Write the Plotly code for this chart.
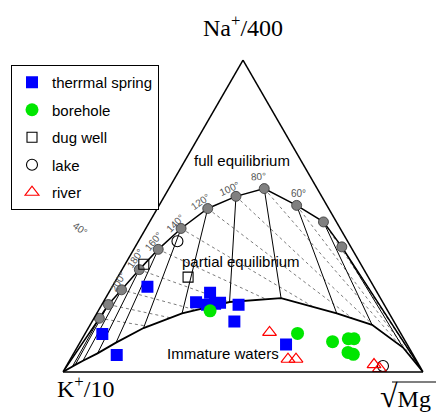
import plotly.graph_objects as go

# ---- Full-equilibrium curve (fractions of Na/400, K/10, sqrt(Mg)) ----
eq_na = [0.172, 0.216, 0.263, 0.328, 0.393, 0.460, 0.524, 0.563, 0.588, 0.534, 0.481, 0.401]
eq_k = [0.813, 0.766, 0.705, 0.624, 0.539, 0.442, 0.336, 0.238, 0.147, 0.084, 0.036, 0.025]
eq_mg = [0.015, 0.018, 0.031, 0.048, 0.068, 0.098, 0.140, 0.199, 0.265, 0.382, 0.483, 0.574]
eq_labels = ["", "", "200°", "180°", "160°", "140°", "120°", "100°", "80°", "60°", "", ""]

# ---- Immature-water boundary, from the K corner to the Mg corner ----
im_na = [0, 0.0175, 0.0225, 0.0359, 0.0594, 0.0938, 0.1406, 0.1875, 0.2241, 0.2366, 0.1875, 0.1509, 0.0781, 0]
im_k = [1, 0.9648, 0.9548, 0.9265, 0.8744, 0.8058, 0.7060, 0.5755, 0.4253, 0.2760, 0.1458, 0.0661, 0.0165, 0]
im_mg = [0, 0.0177, 0.0227, 0.0376, 0.0662, 0.1004, 0.1534, 0.2370, 0.3506, 0.4874, 0.6667, 0.7830, 0.9054, 1]

# ---- Samples ----
spring_na = [0.2734, 0.2234, 0.2541, 0.2156, 0.2188, 0.2219, 0.2156, 0.1616, 0.1219, 0.0541, 0.0875]
spring_k = [0.6288, 0.5187, 0.4644, 0.4920, 0.4681, 0.4528, 0.4045, 0.4432, 0.8298, 0.8237, 0.3367]
spring_mg = [0.0978, 0.2579, 0.2815, 0.2924, 0.3131, 0.3253, 0.3799, 0.3952, 0.0483, 0.1222, 0.5758]

bore_na = [0.1959, 0.1234, 0.0969, 0.1063, 0.1063, 0.0625, 0.0563]
bore_k = [0.4935, 0.2868, 0.2028, 0.1543, 0.1384, 0.1770, 0.1654]
bore_mg = [0.3106, 0.5898, 0.7003, 0.7394, 0.7553, 0.7605, 0.7783]

well_na = [0.3453, 0.3041]
well_k = [0.6029, 0.5005]
well_mg = [0.0518, 0.1954]

lake_na = [0.4188, 0.0188]
lake_k = [0.4727, 0.1017]
lake_mg = [0.1085, 0.8795]

river_na = [0.1266, 0.0406, 0.0406, 0.0234, 0.0109]
river_k = [0.3630, 0.3547, 0.3325, 0.1244, 0.1154]
river_mg = [0.5104, 0.6047, 0.6269, 0.8522, 0.8737]

W, H = 436, 412
TRI_L, TRI_W, TRI_CY = 63, 360, 216
TRI_H = TRI_W * 3 ** 0.5 / 2
SANS = "Liberation Sans, Arial, sans-serif"
SERIF = "Liberation Serif, Times New Roman, serif"


def to_paper(a, b, c):
    s = a + b + c
    a, c = a / s, c / s
    px = TRI_L + TRI_W * (c + a / 2)
    py = TRI_CY + TRI_H / 2 - TRI_H * a
    return px / W, 1 - py / H


fig = go.Figure()

# Na/K isopleths (dotted) from each equilibrium point towards the Mg corner
da, db, dc = [], [], []
for a, b, c in zip(eq_na, eq_k, eq_mg):
    da += [a, 0, None]
    db += [b, 0, None]
    dc += [c, 1, None]
fig.add_trace(go.Scatterternary(a=da, b=db, c=dc, mode="lines", showlegend=False,
                                line=dict(color="#444", width=0.7, dash="dot"), hoverinfo="skip"))

# K/Mg isopleths (solid) from each equilibrium point down to the immature line
sa, sb, sc = [], [], []
for i, (a, b, c) in enumerate(zip(eq_na, eq_k, eq_mg)):
    sa += [a, im_na[i + 1], None]
    sb += [b, im_k[i + 1], None]
    sc += [c, im_mg[i + 1], None]
fig.add_trace(go.Scatterternary(a=sa, b=sb, c=sc, mode="lines", showlegend=False,
                                line=dict(color="black", width=1), hoverinfo="skip"))

# white field of immature waters (hides the isopleths below the boundary)
fig.add_trace(go.Scatterternary(a=im_na + [0], b=im_k + [1], c=im_mg + [0], mode="lines",
                                fill="toself", fillcolor="white", line=dict(width=0, color="white"),
                                showlegend=False, hoverinfo="skip"))

# immature-water boundary
fig.add_trace(go.Scatterternary(a=im_na, b=im_k, c=im_mg, mode="lines", showlegend=False,
                                line=dict(color="black", width=1.8), hoverinfo="skip"))

# full-equilibrium curve
fig.add_trace(go.Scatterternary(a=[0] + eq_na + [0], b=[1] + eq_k + [0], c=[0] + eq_mg + [1],
                                mode="lines", showlegend=False,
                                line=dict(color="black", width=1.5), hoverinfo="skip"))
fig.add_trace(go.Scatterternary(a=eq_na, b=eq_k, c=eq_mg, mode="markers", showlegend=False,
                                marker=dict(symbol="circle", size=10, color="#808080",
                                            line=dict(color="#333", width=0.8))))

# samples
fig.add_trace(go.Scatterternary(a=spring_na, b=spring_k, c=spring_mg, mode="markers",
                                name="therrmal spring", legendgroup="g1",
                                marker=dict(symbol="square", size=12, color="#0000ff", line=dict(width=0))))
fig.add_trace(go.Scatterternary(a=bore_na, b=bore_k, c=bore_mg, mode="markers",
                                name="borehole", legendgroup="g2",
                                marker=dict(symbol="circle", size=13, color="#00e600", line=dict(width=0))))
fig.add_trace(go.Scatterternary(a=well_na, b=well_k, c=well_mg, mode="markers",
                                name="dug well", legendgroup="g3",
                                marker=dict(symbol="square-open", size=10, color="black", line=dict(width=1.1))))
fig.add_trace(go.Scatterternary(a=lake_na, b=lake_k, c=lake_mg, mode="markers",
                                name="lake", legendgroup="g4",
                                marker=dict(symbol="circle-open", size=11, color="black", line=dict(width=1.1))))
fig.add_trace(go.Scatterternary(a=river_na, b=river_k, c=river_mg, mode="markers",
                                name="river", legendgroup="g5",
                                marker=dict(symbol="triangle-up-open", size=12, color="red", line=dict(width=1.2))))

axis_style = dict(showgrid=False, showticklabels=False, ticks="", linecolor="black",
                  linewidth=1.5, min=0, title=dict(text=""))

# temperature labels next to the equilibrium points
label_style = {
    "200°": (-3, -8, -60), "180°": (-4, -11, -55), "160°": (-5, -8, -50),
    "140°": (-6, -5, -45), "120°": (-7, -7, -35), "100°": (-6, -8, -25),
    "80°": (-6, -12, -5), "60°": (2, -12, 0),
}
annotations = []
for a, b, c, t in zip(eq_na, eq_k, eq_mg, eq_labels):
    if not t:
        continue
    x, y = to_paper(a, b, c)
    dx, dy, ang = label_style[t]
    annotations.append(dict(x=x, y=y, xref="paper", yref="paper", text=t, showarrow=False,
                            xanchor="center", yanchor="middle",
                            xshift=dx, yshift=-dy, textangle=ang,
                            font=dict(family=SANS, size=10, color="#555")))
annotations.append(dict(x=80 / W, y=1 - 228 / H, xref="paper", yref="paper", text="40°",
                        xanchor="center", yanchor="middle",
                        showarrow=False, textangle=35, font=dict(family=SANS, size=10, color="#555")))

for txt, px, py in [("full equilibrium", 242, 161), ("partial equilibrium", 241, 261.5),
                    ("Immature waters", 222.5, 353)]:
    annotations.append(dict(x=px / W, y=1 - py / H, xref="paper", yref="paper", text=txt,
                            xanchor="center", yanchor="middle",
                            showarrow=False, font=dict(family=SANS, size=15, color="black")))

# corner labels
corner_font = dict(family=SERIF, size=24, color="black")
annotations.append(dict(x=243 / W, y=1 - 43 / H, xref="paper", yref="paper",
                        xanchor="center", yanchor="bottom",
                        text="Na<sup>+</sup>/400", showarrow=False, font=corner_font))
annotations.append(dict(x=55 / W, y=1 - 404 / H, xref="paper", yref="paper",
                        xanchor="left", yanchor="bottom",
                        text="K<sup>+</sup>/10", showarrow=False, font=corner_font))
annotations.append(dict(x=378 / W, y=1 - 416 / H, xref="paper", yref="paper",
                        xanchor="left", yanchor="bottom",
                        text="<span style='font-size:32px'>√</span>Mg", showarrow=False,
                        font=corner_font))

fig.update_layout(
    width=W, height=H,
    margin=dict(l=0, r=0, t=0, b=0),
    paper_bgcolor="white",
    ternary=dict(
        sum=1,
        bgcolor="white",
        domain=dict(x=[TRI_L / W, (TRI_L + TRI_W) / W], y=[40 / H, 352 / H]),
        aaxis=axis_style, baxis=axis_style, caxis=axis_style,
    ),
    legend=dict(x=11 / W, y=1 - 65 / H, xanchor="left", yanchor="top",
                bgcolor="white", bordercolor="black", borderwidth=1,
                font=dict(family=SANS, size=15, color="black"),
                traceorder="grouped", tracegroupgap=5),
    annotations=annotations,
    shapes=[dict(type="line", xref="paper", yref="paper", x0=392 / W, x1=1.0,
                 y0=1 - 382 / H, y1=1 - 382 / H, line=dict(color="black", width=1.2))],
)

fig.write_html("out.html")
